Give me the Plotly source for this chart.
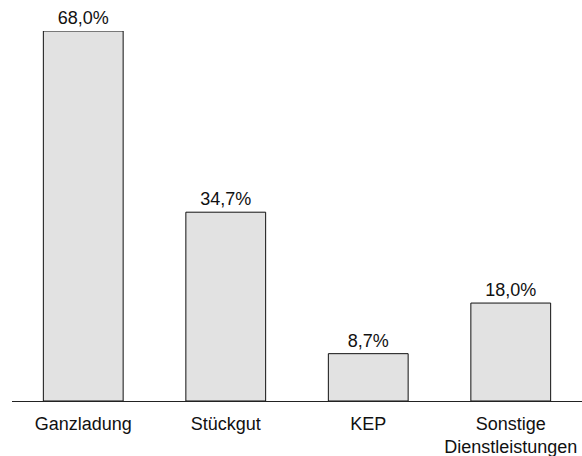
import plotly.graph_objects as go

categories = ["Ganzladung", "Stückgut", "KEP", "Sonstige<br>Dienstleistungen"]
shares = [68.0, 34.7, 8.7, 18.0]
labels = [f"{v:.1f}%".replace(".", ",") for v in shares]

FONT = "Liberation Sans, Arial, Helvetica, sans-serif"

fig = go.Figure(
    go.Bar(
        x=categories,
        y=shares,
        text=labels,
        textposition="outside",
        textfont=dict(family=FONT, size=18, color="#111111"),
        constraintext="none",
        marker=dict(color="#e2e2e2", line=dict(color="#111111", width=1)),
        cliponaxis=False,
        hoverinfo="skip",
    )
)

fig.update_layout(
    width=582,
    height=456,
    margin=dict(l=12, r=0, t=31, b=55),
    paper_bgcolor="white",
    plot_bgcolor="white",
    bargap=0.44,
    showlegend=False,
    font=dict(family=FONT, size=18, color="#111111"),
)
fig.update_xaxes(
    showline=True,
    linecolor="#222222",
    linewidth=1,
    ticks="",
    showgrid=False,
    tickfont=dict(family=FONT, size=18, color="#111111"),
    ticklabelstandoff=6,
)
fig.update_yaxes(range=[0, 68], visible=False, showgrid=False, zeroline=False)

fig.write_html("out.html")
